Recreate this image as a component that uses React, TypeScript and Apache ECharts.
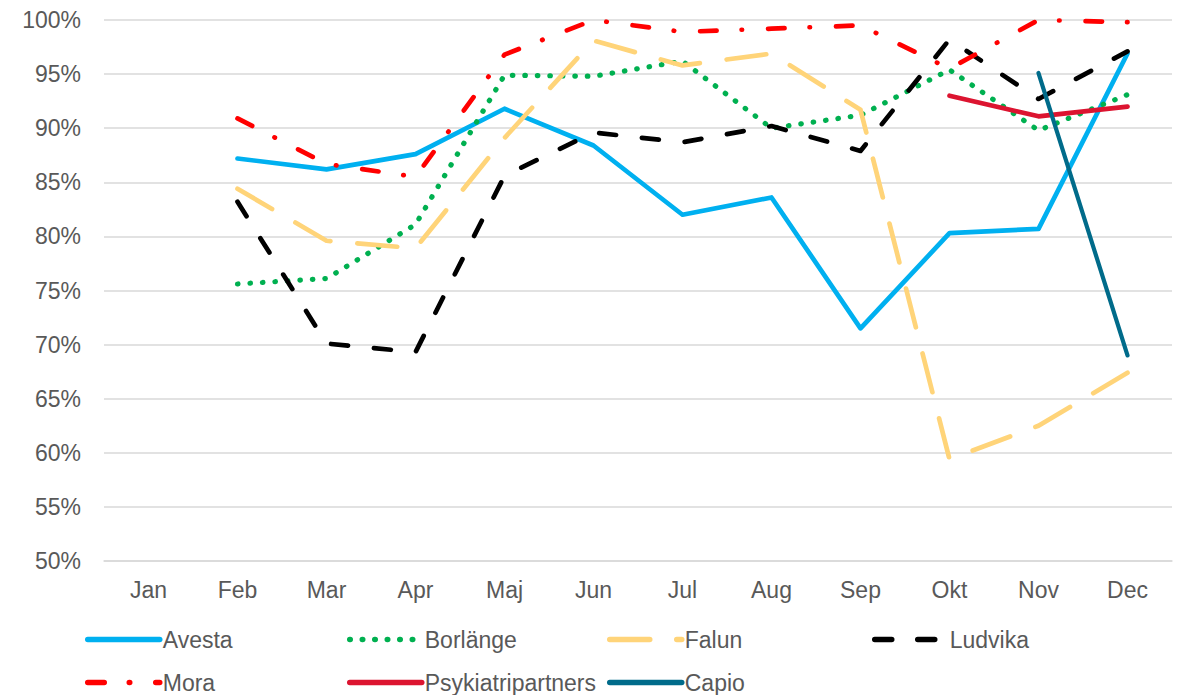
import React, { useEffect, useRef } from "react";
import * as echarts from "echarts";

const months = ["Jan", "Feb", "Mar", "Apr", "Maj", "Jun", "Jul", "Aug", "Sep", "Okt", "Nov", "Dec"];
const yTicks = [50, 55, 60, 65, 70, 75, 80, 85, 90, 95, 100];

const avesta = [null, 87.2, 86.2, 87.6, 91.8, 88.4, 82.0, 83.6, 71.5, 80.3, 80.7, 96.9];
const borlange = [null, 75.6, 76.1, 81.1, 94.9, 94.8, 96.2, 90.0, 91.2, 95.4, 89.8, 93.1];
const falun = [null, 84.4, 79.6, 78.9, 89.1, 98.1, 95.8, 96.9, 91.7, 59.4, 62.5, 67.4];
const ludvika = [null, 83.2, 70.1, 69.3, 85.6, 89.6, 88.7, 90.2, 87.9, 98.2, 92.7, 97.1];
const mora = [null, 90.9, 86.7, 85.5, 96.8, 100, 98.9, 99.2, 99.5, 95.5, 100, 99.8];
const psykiatripartners = [null, null, null, null, null, null, null, null, null, 93.0, 91.1, 92.0];
const capio = [null, null, null, null, null, null, null, null, null, null, 95.1, 69.0];

const seriesDefs = [
  { name: "Avesta", data: avesta, color: "#00B0F0", type: "solid" as any, width: 4.7 },
  { name: "Borlänge", data: borlange, color: "#00B050", type: [0.5, 12], width: 5.2 },
  { name: "Falun", data: falun, color: "#FFD479", type: [40, 27], width: 4.7 },
  { name: "Ludvika", data: ludvika, color: "#000000", type: [17, 26], width: 4.7 },
  { name: "Mora", data: mora, color: "#FF0000", type: [16.5, 25, 0.5, 26], width: 4.7 },
  { name: "Psykiatripartners", data: psykiatripartners, color: "#DC1430", type: "solid" as any, width: 4.7 },
  { name: "Capio", data: capio, color: "#006B8A", type: "solid" as any, width: 4.2 },
];

const legendPos = [
  { left: 85, top: 628 },
  { left: 347, top: 628 },
  { left: 607, top: 628 },
  { left: 872, top: 628 },
  { left: 85, top: 671 },
  { left: 347, top: 671 },
  { left: 607, top: 671 },
];

const FONT = "'Liberation Sans', Arial, sans-serif";

export default function App() {
  const ref = useRef<HTMLDivElement>(null);
  useEffect(() => {
    if (!ref.current) return;
    const chart = echarts.init(ref.current, undefined, { renderer: "svg" });
    chart.setOption({
      animation: false,
      backgroundColor: "#ffffff",
      textStyle: { fontFamily: FONT },
      grid: { left: 104, right: 5, top: 20, bottom: 134, containLabel: false },
      legend: seriesDefs.map((s, i) => ({
        data: [s.name],
        left: legendPos[i].left,
        top: legendPos[i].top,
        padding: 0,
        itemWidth: 72,
        itemHeight: 14,
        itemGap: 0,
        itemStyle: { opacity: 0, borderWidth: 0 },
        lineStyle: { width: 5.5, cap: "round", type: s.type, color: s.color },
        textStyle: { fontSize: 23, color: "#595959", fontFamily: FONT, padding: [0, 0, 0, -2] },
      })),
      xAxis: {
        type: "category",
        data: months,
        boundaryGap: true,
        axisLine: { show: true, lineStyle: { color: "#D9D9D9", width: 1.5 } },
        axisTick: { show: false },
        axisLabel: { fontSize: 23, color: "#595959", margin: 17, fontFamily: FONT },
      },
      yAxis: {
        type: "value",
        min: yTicks[0],
        max: yTicks[yTicks.length - 1],
        interval: 5,
        axisLine: { show: false },
        axisTick: { show: false },
        axisLabel: { fontSize: 23, color: "#595959", margin: 23, formatter: "{value}%", fontFamily: FONT },
        splitLine: { lineStyle: { color: "#D9D9D9", width: 1.5 } },
      },
      series: seriesDefs.map((s) => ({
        name: s.name,
        type: "line",
        data: s.data,
        symbol: "none",
        showSymbol: false,
        connectNulls: false,
        color: s.color,
        lineStyle: { color: s.color, width: s.width, type: s.type, cap: "round", join: "round" },
        itemStyle: { color: s.color },
      })),
    });
    return () => chart.dispose();
  }, []);
  return (
    <div
      ref={ref}
      style={{ position: "fixed", left: 0, top: 0, width: 1177, height: 695, background: "#fff" }}
    />
  );
}
